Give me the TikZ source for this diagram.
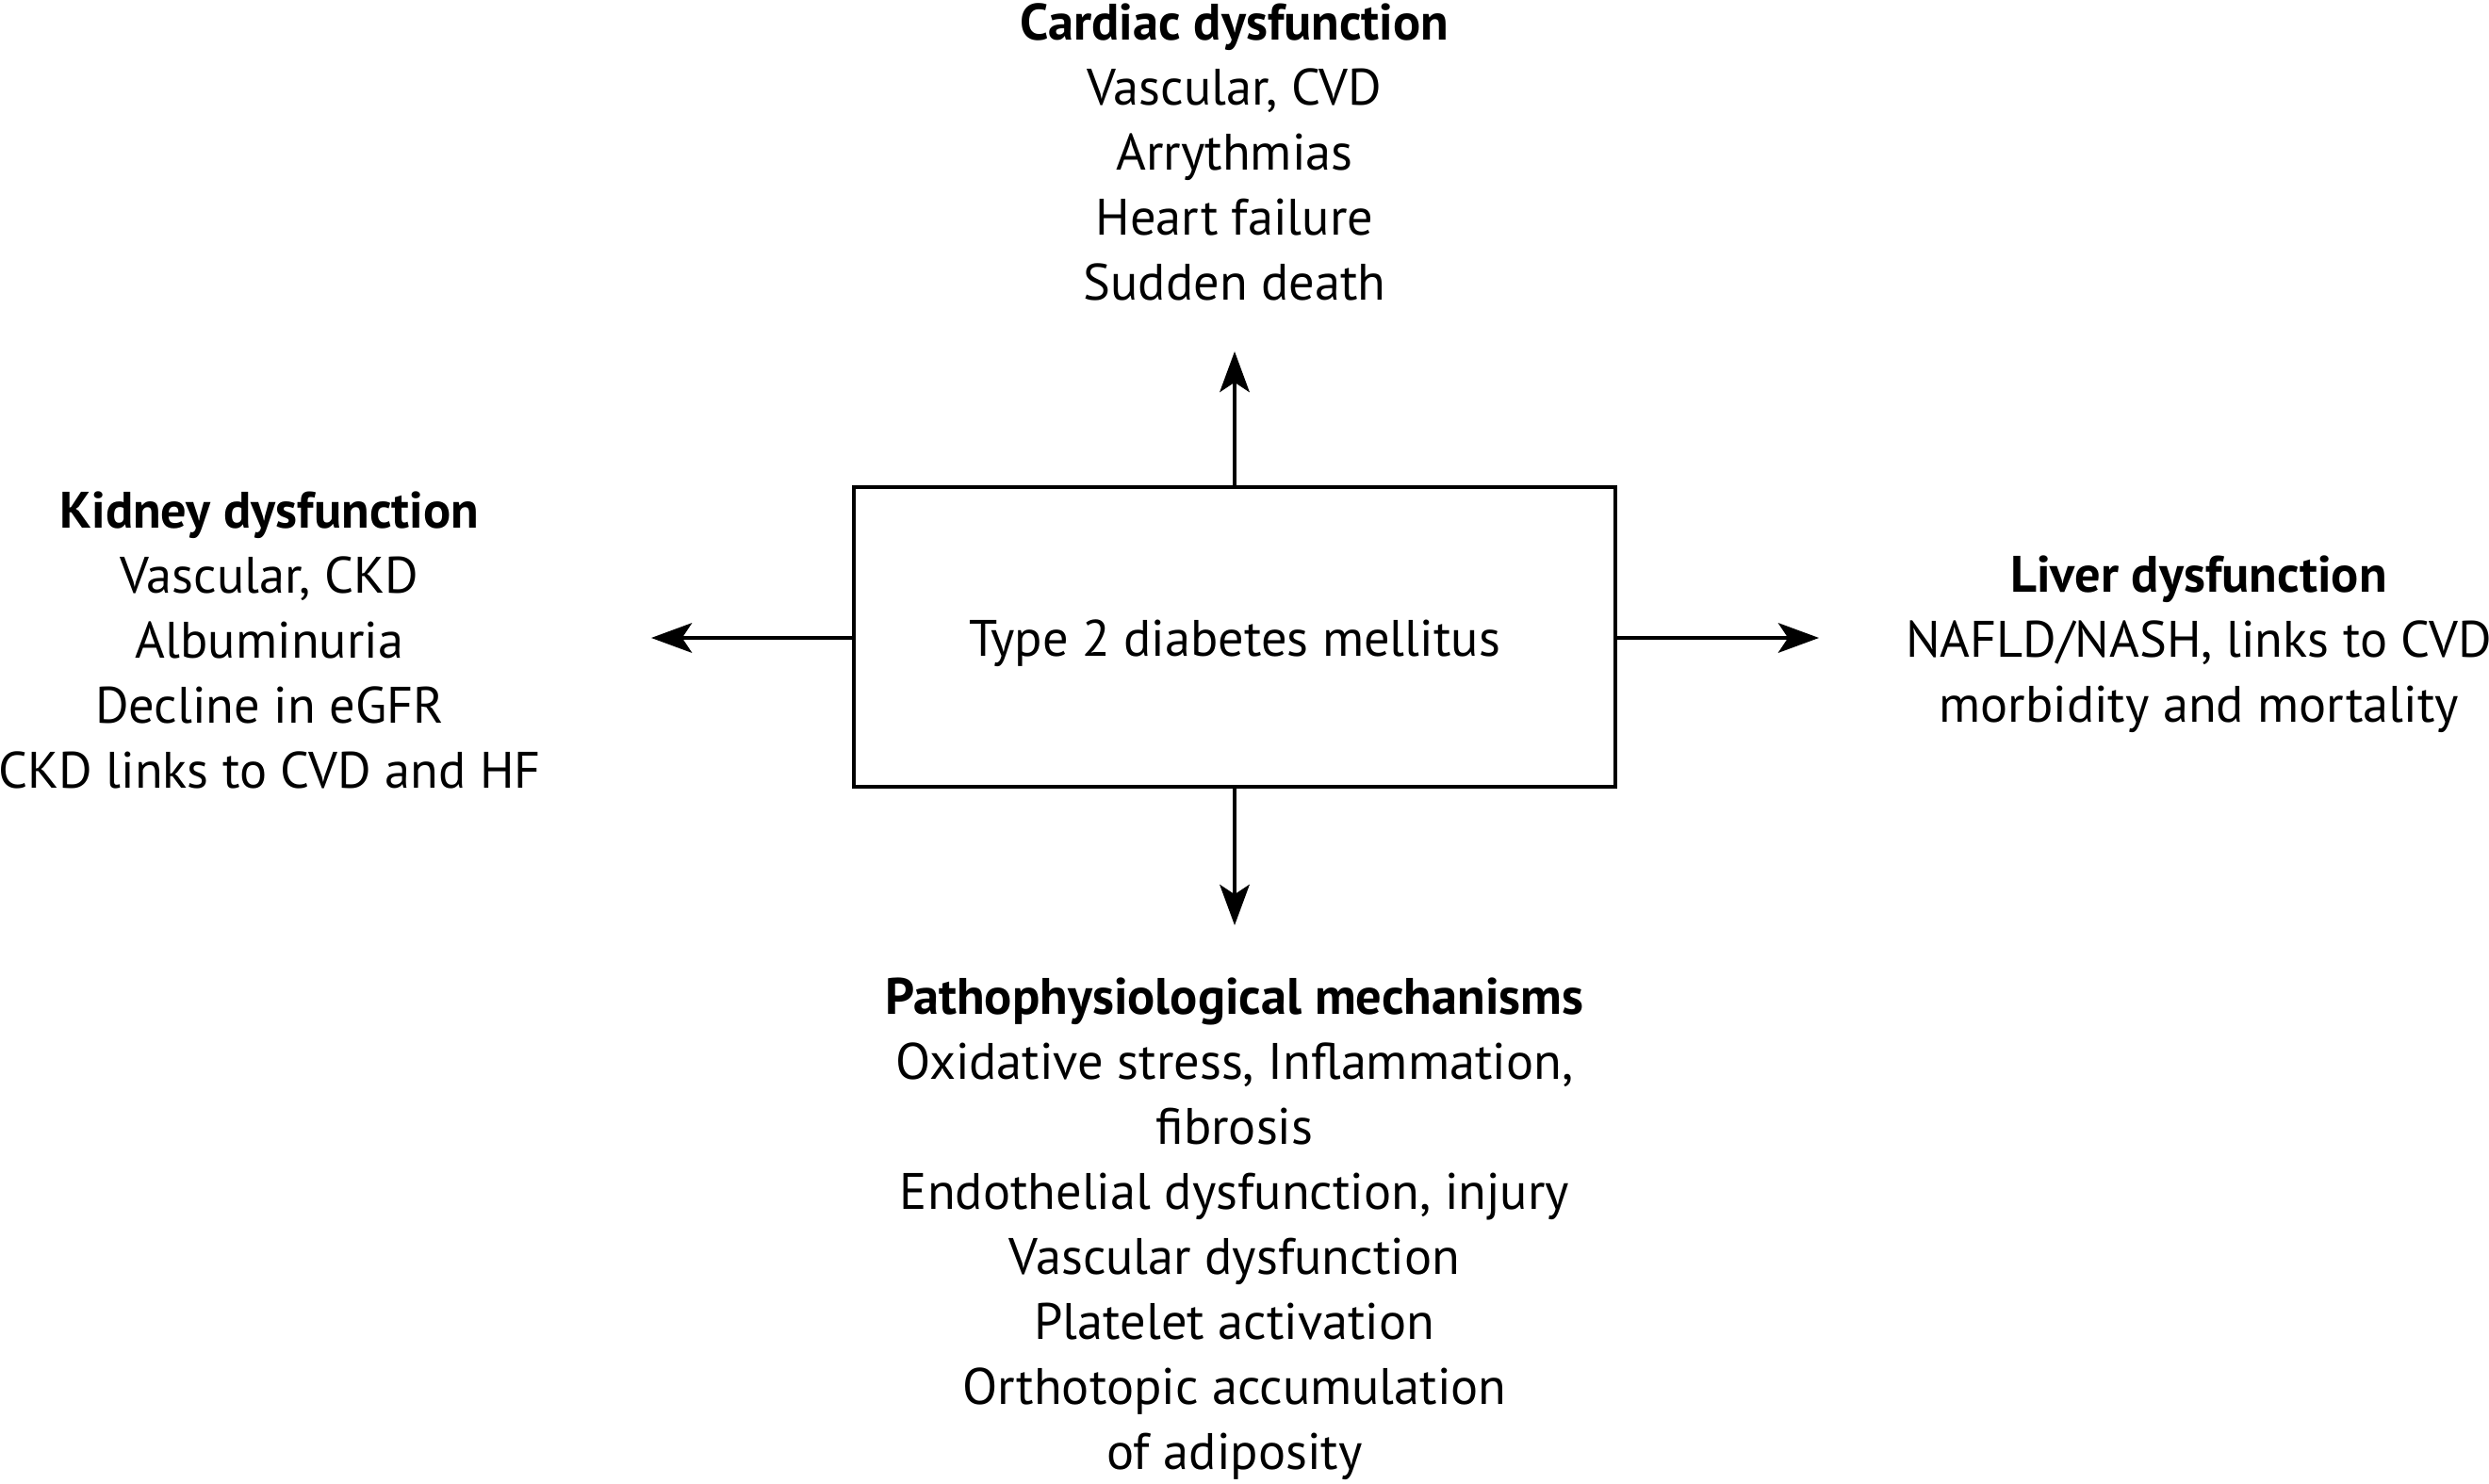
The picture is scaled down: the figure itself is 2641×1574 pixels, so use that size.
\documentclass[tikz,border=0pt]{standalone}
\usepackage{fontspec}
\setmainfont{PT Sans}
\usetikzlibrary{arrows.meta}
\begin{document}
\begin{tikzpicture}[x=0.25pt,y=-0.25pt,
  txt/.style={align=center,inner sep=0pt,font=\fontsize{13.6}{17.25}\selectfont},
  mainbox/.style={draw,line width=0.9pt,minimum width=202pt,minimum height=79.5pt,inner sep=0pt,font=\fontsize{13.6}{17.25}\selectfont},
  link/.style={line width=0.85pt,-{Stealth[length=10.8pt,width=7.9pt,inset=2.6pt]}}]
\useasboundingbox (0,0) rectangle (2641,1574);
\node[mainbox] (t2dm) at (1310,676) {};
\node[txt] (t2dmlabel) at (1310,683) {Type 2 diabetes mellitus};
\node[txt] (cardiac) at (1310,161) {\textbf{Cardiac dysfunction}\\Vascular, CVD\\Arrythmias\\Heart failure\\Sudden death};
\node[txt] (kidney) at (286,679) {\textbf{Kidney dysfunction}\\Vascular, CKD\\Albuminuria\\Decline in eGFR\\CKD links to CVD and HF};
\node[txt] (liver) at (2333,684) {\textbf{Liver dysfunction}\\NAFLD/NASH, links to CVD\\morbidity and mortality};
\node[txt] (patho) at (1310,1304) {\textbf{Pathophysiological mechanisms}\\Oxidative stress, Inflammation,\\fibrosis\\Endothelial dysfunction, injury\\Vascular dysfunction\\Platelet activation\\Orthotopic accumulation\\of adiposity};
\coordinate (upend) at (1310,373);
\coordinate (leftend) at (691,677);
\coordinate (rightend) at (1930,677);
\coordinate (downend) at (1310,982);
\draw[link] (t2dm.north) -- (upend);
\draw[link] (t2dm.west |- leftend) -- (leftend);
\draw[link] (t2dm.east |- rightend) -- (rightend);
\draw[link] (t2dm.south) -- (downend);
\end{tikzpicture}
\end{document}
